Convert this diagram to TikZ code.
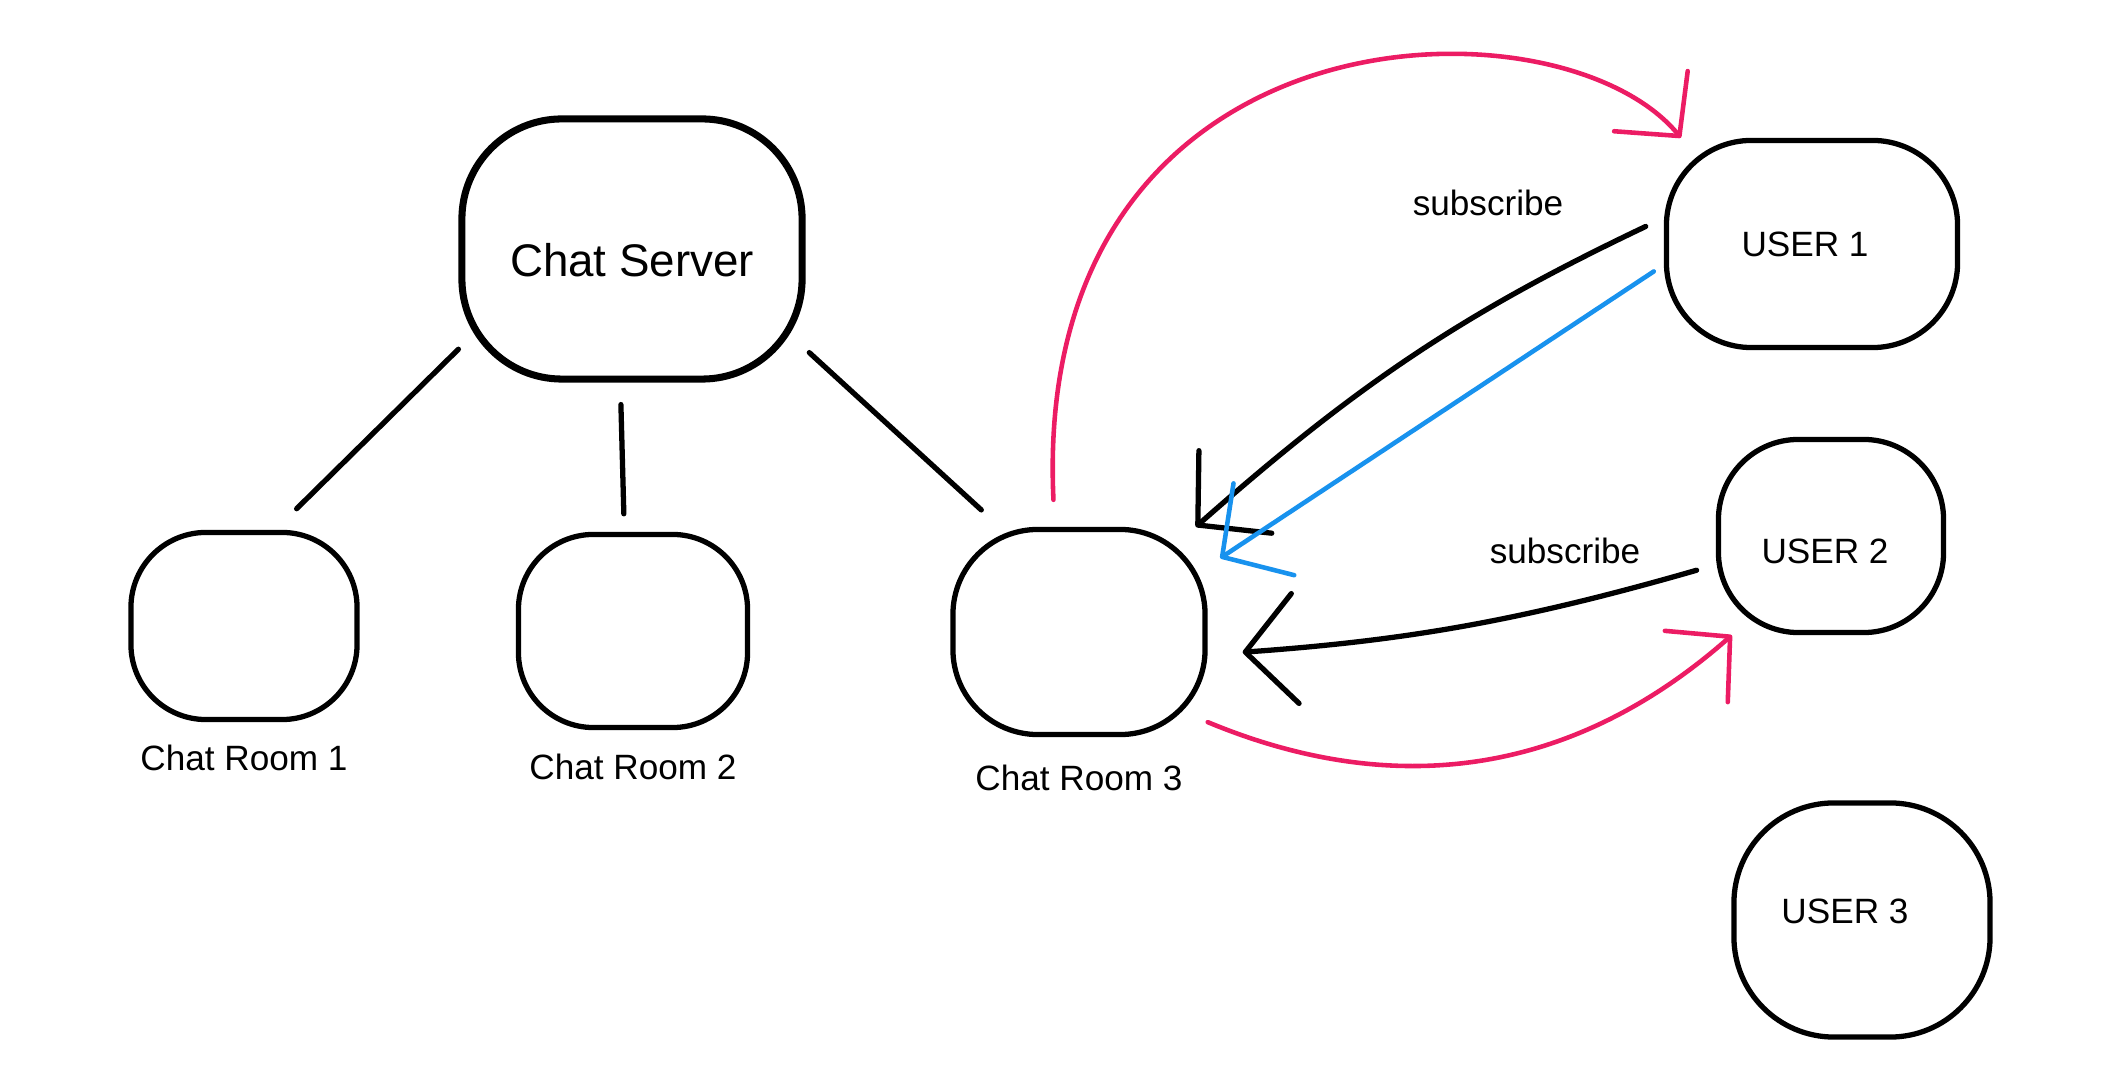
\documentclass[tikz,border=0pt]{standalone}
\usepackage{fontspec}
\setmainfont{Liberation Sans}
\usetikzlibrary{arrows.meta,positioning}
\definecolor{inkpink}{RGB}{236,28,100}
\definecolor{inkblue}{RGB}{24,146,238}
\tikzset{
  blob/.style={draw, line width=1.5pt, rounded corners=0.75cm, inner sep=0pt,
    font=\fontsize{10}{12}\selectfont},
  roomtext/.style={font=\fontsize{10}{12}\selectfont},
  link/.style={draw, line width=1.5pt, line cap=round},
  subarrow/.style={link, -{Straight Barb[length=0.5cm, width=1.1cm, round]}},
  bluearrow/.style={subarrow, inkblue, line width=1.3pt},
  pinkarrow/.style={link, inkpink, line width=1.3pt,
    -{Straight Barb[length=0.45cm, width=0.95cm, round]}}
}
\begin{document}
\begin{tikzpicture}[x=0.01cm, y=-0.01cm]
   % Page frame
   \useasboundingbox (0,0) rectangle (2112,1092);
   % Server and rooms
   \node[blob, line width=2pt, rounded corners=1cm, minimum width=3.4cm, minimum height=2.6cm,
     label={[font=\fontsize{13}{15}\selectfont, yshift=-0.11cm]center:Chat Server}] (server) at (632,249) {};
   \node[blob, minimum width=2.26cm, minimum height=1.87cm] (room1) at (244,626) {};
   \node[blob, minimum width=2.29cm, minimum height=1.93cm] (room2) at (633,631) {};
   \node[blob, rounded corners=0.85cm, minimum width=2.52cm, minimum height=2.05cm] (room3) at (1079,632) {};
   \node[roomtext, below=0.1cm of room1] (room1text) {Chat Room 1};
   \node[roomtext, below=0.11cm of room2] (room2text) {Chat Room 2};
   \node[roomtext, below=0.15cm of room3] (room3text) {Chat Room 3};
   % Users
   \node[blob, rounded corners=0.85cm, minimum width=2.91cm, minimum height=2.07cm,
     label={[roomtext, xshift=-0.07cm]center:USER 1}] (user1) at (1812,244) {};
   \node[blob, rounded corners=0.8cm, minimum width=2.25cm, minimum height=1.93cm,
     label={[roomtext, xshift=-0.06cm, yshift=-0.15cm]center:USER 2}] (user2) at (1831,536) {};
   \node[blob, rounded corners=1cm, minimum width=2.56cm, minimum height=2.34cm,
     label={[roomtext, xshift=-0.17cm, yshift=0.09cm]center:USER 3}] (user3) at (1862,920) {};
   \node[roomtext] (sub1) at (1488,203) {subscribe};
   \node[roomtext] (sub2) at (1565,551) {subscribe};
   % Server to rooms
   \draw[link] (server.210) -- (room1.72) [shorten >=0.3cm];
   \draw[link, shorten <=0.22cm, shorten >=0.18cm] (server.265) -- (room2.95);
   \draw[link, shorten <=0.05cm, shorten >=0.25cm] (server.330) -- (room3.127);
   % Subscriptions
   \draw[subarrow, shorten <=0.2cm] (user1.170) to[bend right=8] (room3.42);
   \draw[bluearrow, shorten <=0.12cm, shorten >=0.15cm] (user1.188) -- (room3.27);
   \draw[subarrow, shorten <=0.2cm, shorten >=0.35cm] (user2.194) to[bend left=6] (room3.-10);
   % Messages
   \draw[pinkarrow, shorten <=0.27cm] (room3.103) .. controls (1030,0) and (1560,-10) .. (user1.141);
   \draw[pinkarrow] (room3.-35) to[bend right=32] (user2.225);
\end{tikzpicture}
\end{document}
